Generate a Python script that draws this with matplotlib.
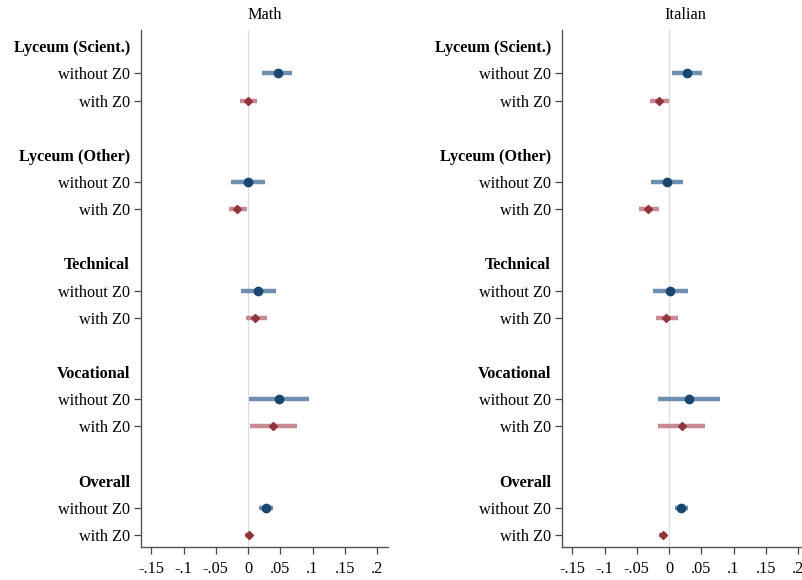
import numpy as np
import matplotlib.pyplot as plt

plt.rcParams['font.family'] = ['Liberation Serif', 'DejaVu Serif']

# === Data ===
GROUPS = ["Lyceum (Scient.)", "Lyceum (Other)", "Technical", "Vocational", "Overall"]
PANELS = ["Math", "Italian"]

# point estimates and 95% CI, order follows GROUPS
math_wo = [0.046, 0.000, 0.015, 0.048, 0.028]
math_wo_lo = [0.022, -0.026, -0.011, 0.002, 0.017]
math_wo_hi = [0.068, 0.026, 0.043, 0.094, 0.039]
math_w = [0.000, -0.017, 0.011, 0.039, 0.001]
math_w_lo = [-0.012, -0.030, -0.003, 0.003, -0.005]
math_w_hi = [0.014, -0.002, 0.029, 0.076, 0.006]

ital_wo = [0.028, -0.003, 0.002, 0.031, 0.019]
ital_wo_lo = [0.005, -0.028, -0.025, -0.017, 0.009]
ital_wo_hi = [0.051, 0.022, 0.030, 0.079, 0.029]
ital_w = [-0.015, -0.033, -0.005, 0.020, -0.009]
ital_w_lo = [-0.030, -0.046, -0.020, -0.017, -0.015]
ital_w_hi = [0.000, -0.015, 0.014, 0.056, -0.003]

XTICKS = [-0.15, -0.1, -0.05, 0, 0.05, 0.1, 0.15, 0.2]
XTICK_LABELS = ["-.15", "-.1", "-.05", "0", ".05", ".1", ".15", ".2"]

# === Styles ===
BLUE = "#1a476f"
BLUE_CI = "#6e8fb0"
RED = "#90353b"
RED_CI = "#c98a93"

fig = plt.figure(figsize=(8.02, 5.80), dpi=100)
ax_l = fig.add_axes([0.1758, 0.0569, 0.308, 0.891])
ax_r = fig.add_axes([0.7007, 0.0569, 0.308, 0.891])

series = [
    (math_wo, math_wo_lo, math_wo_hi, math_w, math_w_lo, math_w_hi),
    (ital_wo, ital_wo_lo, ital_wo_hi, ital_w, ital_w_lo, ital_w_hi),
]

# rows: header, without, with, blank
ypos, ylabels, is_header = [], [], []
for g, name in enumerate(GROUPS):
    base = 4 * g
    ypos += [base, base + 1, base + 2]
    ylabels += [name, "without Z0", "with Z0"]
    is_header += [True, False, False]

for ax, title, (wo, wo_lo, wo_hi, w, w_lo, w_hi) in zip([ax_l, ax_r], PANELS, series):
    ax.axvline(0, color="#dddddd", lw=0.9, zorder=0)
    for g in range(len(GROUPS)):
        y1 = 4 * g + 1
        y2 = 4 * g + 2
        ax.plot([wo_lo[g], wo_hi[g]], [y1, y1], color=BLUE_CI, lw=3.2,
                solid_capstyle="butt", zorder=2)
        ax.plot(wo[g], y1, "o", color=BLUE, ms=6, zorder=3)
        ax.plot([w_lo[g], w_hi[g]], [y2, y2], color=RED_CI, lw=3.2,
                solid_capstyle="butt", zorder=2)
        ax.plot(w[g], y2, "D", color=RED, ms=4.5, zorder=3)

    ax.set_xlim(-0.166, 0.217)
    ax.set_ylim(18.44, -0.59)
    ax.set_xticks(XTICKS)
    ax.set_xticklabels(XTICK_LABELS, fontsize=11.7)
    ax.set_yticks(ypos)
    ax.set_yticklabels(ylabels, fontsize=11.7)
    for tick, hdr in zip(ax.yaxis.get_major_ticks(), is_header):
        if hdr:
            tick.tick1line.set_visible(False)
            tick.label1.set_fontweight("bold")
    ax.tick_params(axis="both", direction="out", length=5, width=0.9,
                   color="#444444", pad=3)
    ax.tick_params(axis="x", pad=5)
    for side in ["top", "right"]:
        ax.spines[side].set_visible(False)
    for side in ["left", "bottom"]:
        ax.spines[side].set_color("#555555")
        ax.spines[side].set_linewidth(1.0)
    ax.set_title(title, fontsize=11.7, pad=8)

fig.savefig("out.png", dpi=100)
